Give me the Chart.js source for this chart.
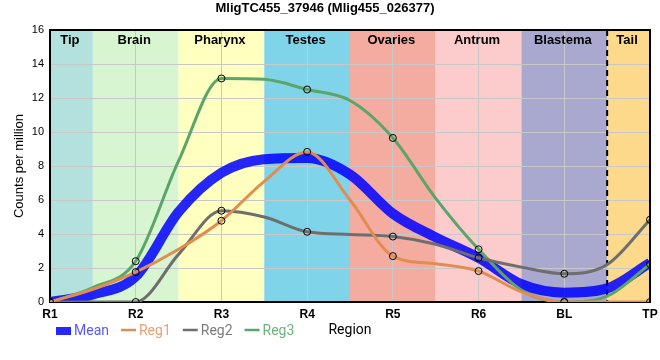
<!DOCTYPE html>
<html><head><meta charset="utf-8">
<script src="https://cdn.jsdelivr.net/npm/chart.js@4/dist/chart.umd.min.js"></script>
<style>html,body{margin:0;padding:0;background:#fff}</style>
</head><body>
<canvas id="c" width="660" height="360"></canvas>
<script>
// ---- data ----
const categories = ['R1','R2','R3','R4','R5','R6','BL','TP'];
// sample positions along the category axis (0 = R1 ... 7 = TP)
const samplePositions = [0,0.5,1,1.5,2,2.5,3,3.5,4,4.5,5,5.5,6,6.5,7];
const meanValues = [0,0.45,1.5,5.3,7.6,8.4,8.47,7.5,5.2,3.8,2.6,1.05,0.55,0.8,2.3];
const reg1Values = [0,0.75,1.76,3.1,4.78,7.1,8.83,6.0,2.7,2.25,1.82,0.6,0,0,0];
const reg2Values = [0,0,0,2.8,5.37,5.0,4.13,3.97,3.85,3.4,2.6,2.05,1.66,2.2,4.84];
const reg3Values = [0,0.85,2.4,8.3,13.15,13.1,12.5,11.85,9.65,6.1,3.1,0.7,0,0.35,2.23];
const seriesNames = ['Mean','Reg1','Reg2','Reg3'];
const regionNames = ['Tip','Brain','Pharynx','Testes','Ovaries','Antrum','Blastema','Tail'];
const regionColors = ['#b3e2de','#d7f5d0','#ffffbf','#80d4ea','#f4aca0','#fccbcb','#a9a8cf','#fdd98c'];
const yTicks = [0,2,4,6,8,10,12,14,16];
const tailBoundary = 6.5;

const lineColors = ['rgba(0,0,255,0.85)','rgb(226,140,80)','rgb(110,110,110)','rgb(90,165,105)'];
const legendTextColors = ['#5858ff','#e9a072','#7c7c7c','#6cb47c'];

function toPoints(vals){ return vals.map((v,i)=>({x:samplePositions[i], y:v})); }
function markerRadii(){ return samplePositions.map(p => Number.isInteger(p) ? 3.5 : 0); }

const bandsPlugin = {
  id:'bands',
  beforeDraw(chart){
    const {ctx, chartArea:a, scales:{x}} = chart;
    ctx.save();
    regionNames.forEach((n,i)=>{
      const l = Math.max(a.left, x.getPixelForValue(i-0.5));
      const r = Math.min(a.right, x.getPixelForValue(i+0.5));
      ctx.fillStyle = regionColors[i];
      ctx.fillRect(l, a.top, r-l, a.bottom-a.top);
    });
    ctx.restore();
  },
  beforeDatasetsDraw(chart){
    const {ctx, chartArea:a, scales:{x}} = chart;
    ctx.save();
    ctx.font = "bold 13px 'Liberation Sans', Arial, sans-serif";
    ctx.fillStyle = '#000';
    ctx.textAlign = 'center';
    ctx.textBaseline = 'alphabetic';
    regionNames.forEach((n,i)=>{
      const l = Math.max(a.left, x.getPixelForValue(i-0.5));
      const r = Math.min(a.right, x.getPixelForValue(i+0.5));
      ctx.fillText(n, (l+r)/2 - 1.5, a.top + 14);
    });
    const xd = x.getPixelForValue(tailBoundary);
    ctx.strokeStyle = '#000'; ctx.lineWidth = 2; ctx.setLineDash([6,4]);
    ctx.beginPath(); ctx.moveTo(xd, a.top); ctx.lineTo(xd, a.bottom); ctx.stroke();
    ctx.restore();
  },
  afterDraw(chart){
    const {ctx, chartArea:a} = chart;
    ctx.save();
    ctx.strokeStyle = '#000'; ctx.lineWidth = 2;
    ctx.beginPath();
    ctx.moveTo(a.left, a.top); ctx.lineTo(a.right, a.top); ctx.lineTo(a.right, a.bottom);
    ctx.stroke();
    // legend
    ctx.font = "14px Roboto, 'Liberation Sans', sans-serif";
    ctx.textBaseline = 'middle'; ctx.textAlign = 'left';
    const ly = 331;
    let lx = 56;
    seriesNames.forEach((n,i)=>{
      if (i === 0) {
        ctx.fillStyle = lineColors[0];
        ctx.fillRect(lx, ly-4, 15, 8);
      } else {
        ctx.strokeStyle = lineColors[i]; ctx.lineWidth = 2.5;
        ctx.beginPath(); ctx.moveTo(lx, ly-1); ctx.lineTo(lx+15, ly-1); ctx.stroke();
      }
      ctx.fillStyle = legendTextColors[i];
      ctx.fillText(n, lx+18, ly);
      lx += 18 + ctx.measureText(n).width + 12;
    });
    ctx.restore();
  }
};

const valueSets = [meanValues, reg1Values, reg2Values, reg3Values];
const datasets = valueSets.map((vals,i)=>({
  label: seriesNames[i],
  data: toPoints(vals),
  borderColor: lineColors[i],
  backgroundColor: lineColors[i],
  borderWidth: i===0 ? 10 : 3,
  cubicInterpolationMode: 'monotone',
  pointRadius: i===0 ? 0 : markerRadii(),
  pointBackgroundColor: 'rgba(0,0,0,0)',
  pointBorderColor: '#000',
  pointBorderWidth: 1,
  order: i===0 ? 1 : 0,
  fill: false
}));

Chart.defaults.font.family = "'Liberation Sans', Arial, sans-serif";
Chart.defaults.color = '#000';

new Chart(document.getElementById('c'), {
  type: 'line',
  data: { datasets },
  options: {
    responsive: false,
    animation: false,
    events: [],
    layout: { padding: { left: 0, right: 10, top: 0, bottom: 0 } },
    plugins: {
      legend: { display: false },
      tooltip: { enabled: false },
      title: {
        display: true,
        text: 'MligTC455_37946 (Mlig455_026377)',
        font: { size: 13, weight: 'bold' },
        color: '#000',
        padding: { top: 1, bottom: 13.4 }
      }
    },
    scales: {
      x: {
        type: 'linear', min: 0, max: 7,
        afterBuildTicks(s){ s.ticks = categories.map((c,i)=>({value:i})); },
        afterFit(s){ s.height = 58; s.paddingLeft = 0; s.paddingRight = 0; },
        ticks: { callback: (v)=>categories[v], font: { size: 12, weight: 'bold' }, padding: 5, maxRotation: 0, autoSkip: false },
        grid: { color: '#c8c8c8', lineWidth: 1, drawTicks: false },
        border: { color: '#000', width: 2 },
        title: { display: true, text: 'Region', font: { size: 14, family: "Roboto, 'Liberation Sans', sans-serif" }, color: '#000', padding: { top: 0, bottom: 21 } }
      },
      y: {
        min: 0, max: 16,
        afterBuildTicks(s){ s.ticks = yTicks.map(v=>({value:v})); },
        afterFit(s){ s.width = 50; s.paddingTop = 0; s.paddingBottom = 0; },
        ticks: { font: { size: 11 }, padding: 6 },
        grid: { color: '#c8c8c8', lineWidth: 1, drawTicks: false },
        border: { color: '#000', width: 2 },
        title: { display: true, text: 'Counts per million', font: { size: 13 }, color: '#000', padding: { top: 12, bottom: 0 } }
      }
    }
  },
  plugins: [bandsPlugin]
});
</script>
</body></html>
